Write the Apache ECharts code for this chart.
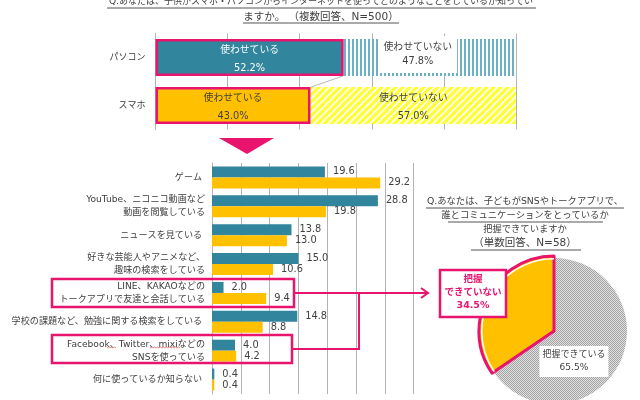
<!DOCTYPE html>
<html>
<head>
<meta charset="utf-8">
<style>html,body{margin:0;padding:0;background:#fff}#container{width:640px;height:400px}</style>
<script src="https://cdn.jsdelivr.net/npm/echarts@6/dist/echarts.min.js"></script>
</head>
<body>
<div id="container"></div>
<script>
const devices = ['パソコン', 'スマホ'];
const allowed = [52.2, 43.0];
const notAllowed = [47.8, 57.0];

const uses = ['ゲーム ', 'YouTube、ニコニコ動画など\n動画を閲覧している', 'ニュースを見ている ', '好きな芸能人やアニメなど、\n趣味の検索をしている', 'LINE、KAKAOなどの\nトークアプリで友達と会話している', '学校の課題など、勉強に関する検索をしている ', 'Facebook、Twitter、mixiなどの\nSNSを使っている', '何に使っているか知らない '];
const pcUse = [19.6, 28.8, 13.8, 15.0, 2.0, 14.8, 4.0, 0.4];
const phoneUse = [29.2, 19.8, 13.0, 10.6, 9.4, 8.8, 4.2, 0.4];

const pieNames = ['把握できている', '把握できていない'];
const pieValues = [65.5, 34.5];

const TEAL = '#31859c', ORANGE = '#ffc000', PINK = '#e8146e', GRID = '#b3b3b3', TEXT = '#404040';
const FONT = '"DejaVu Sans","Noto Sans CJK JP",sans-serif';

// small canvas tiles for the hatched fills
function tile(w, h, bg, draw) {
  const c = document.createElement('canvas');
  c.width = w; c.height = h;
  const ctx = c.getContext('2d');
  ctx.fillStyle = bg;
  ctx.fillRect(0, 0, w, h);
  draw(ctx);
  return { image: c, repeat: 'repeat' };
}
const stripes = tile(4, 4, '#fff', ctx => {
  ctx.fillStyle = '#6cb0c4';
  ctx.fillRect(0, 0, 2, 4);
});
const hatch = tile(7, 7, '#fff', ctx => {
  ctx.strokeStyle = '#ffff33';
  ctx.lineWidth = 3.2;
  [[-7, 7, 7, -7], [0, 7, 7, 0], [0, 14, 14, 0]].forEach(p => {
    ctx.beginPath(); ctx.moveTo(p[0], p[1]); ctx.lineTo(p[2], p[3]); ctx.stroke();
  });
});
const dots = tile(2, 2, '#e0e0e0', ctx => {
  ctx.fillStyle = '#a4a4a4';
  ctx.fillRect(0, 0, 1, 1);
  ctx.fillRect(1, 1, 1, 1);
});

function text(x, y, str, size, opts) {
  return {
    type: 'text', x, y, z: 100,
    style: Object.assign({ text: str, fill: TEXT, font: size + 'px ' + FONT, textAlign: 'center', textVerticalAlign: 'middle' }, opts)
  };
}
function line(x1, y1, x2, y2, color, w) {
  return { type: 'line', z: 100, shape: { x1, y1, x2, y2 }, style: { stroke: color, lineWidth: w } };
}
function box(x, y, w, h, fill) {
  return { type: 'rect', z: 100, shape: { x, y, width: w, height: h }, style: { fill: fill || 'transparent', stroke: PINK, lineWidth: 2.5 } };
}
// the red spell-check squiggle under the Facebook line
function squiggle(x1, x2, y) {
  const points = [];
  for (let x = x1, up = 0; x <= x2; x += 1.5, up = 1 - up) points.push([x, y - up]);
  return { type: 'polyline', z: 100, shape: { points }, style: { stroke: '#d9534f', lineWidth: 0.7, fill: 'none' } };
}

const chart = echarts.init(document.getElementById('container'));

const valueAxis = (idx, max, interval) => ({
  type: 'value', gridIndex: idx, min: 0, max, interval,
  axisLabel: { show: false }, axisLine: { show: false }, axisTick: { show: false },
  splitLine: { lineStyle: { color: GRID, width: 1 } }
});
const catAxis = (idx, data, size, lh, margin) => ({
  type: 'category', gridIndex: idx, data, inverse: true,
  axisLine: { lineStyle: { color: GRID } },
  axisTick: { length: 3, lineStyle: { color: GRID } },
  axisLabel: { color: TEXT, fontSize: size, lineHeight: lh, fontFamily: FONT, margin, interval: 0 }
});
const smallLabel = { show: true, position: 'right', distance: 8, color: TEXT, fontSize: 9.8, fontFamily: FONT, formatter: p => p.value.toFixed(1) };

chart.setOption({
  backgroundColor: '#fff',
  animation: false,
  grid: [
    { left: 155.5, top: 33.5, width: 360.5, height: 96 },
    { left: 212, top: 163, width: 201.6, height: 231 }
  ],
  xAxis: [valueAxis(0, 100, 20), valueAxis(1, 35, 5)],
  yAxis: [catAxis(0, devices, 9, 12, 10), catAxis(1, uses, 9.1, 13, 7)],
  series: [
    {
      type: 'bar', stack: 'a', name: '使わせている', barWidth: 37,
      data: allowed.map((v, i) => ({
        value: v,
        itemStyle: { color: i === 0 ? TEAL : ORANGE, borderColor: PINK, borderWidth: 2.5 },
        label: { color: i === 0 ? '#fff' : TEXT }
      })),
      label: { show: true, position: 'inside', offset: [0, 1.5], fontSize: 9.8, lineHeight: 18, fontFamily: FONT, formatter: p => p.seriesName + '\n' + p.value.toFixed(1) + '%' },
      z: 4
    },
    {
      type: 'bar', stack: 'a', name: '使わせていない', barWidth: 37,
      data: notAllowed.map((v, i) => ({
        value: v,
        itemStyle: { color: i === 0 ? stripes : hatch },
        label: i === 0
          ? { backgroundColor: '#fff', padding: [5, 5, 4, 5], lineHeight: 14, offset: [-12, -3] }
          : { lineHeight: 18, offset: [0, 1.5] }
      })),
      label: { show: true, position: 'inside', color: TEXT, fontSize: 9.8, fontFamily: FONT, formatter: p => p.seriesName + '\n' + p.value.toFixed(1) + '%' },
      z: 3
    },
    {
      type: 'bar', xAxisIndex: 1, yAxisIndex: 1, data: pcUse, barWidth: 11, barGap: 0,
      itemStyle: { color: TEAL }, label: smallLabel
    },
    {
      type: 'bar', xAxisIndex: 1, yAxisIndex: 1, data: phoneUse, barWidth: 11, barGap: 0,
      itemStyle: { color: ORANGE }, label: smallLabel
    },
    {
      type: 'pie', center: [554, 331], radius: 73, startAngle: 90, silent: true, labelLine: { show: false },
      data: [
        {
          value: pieValues[0], name: pieNames[0], itemStyle: { color: dots },
          label: {
            show: true, position: 'inside', offset: [-15, 12], color: TEXT, fontSize: 9, lineHeight: 13, fontFamily: FONT,
            backgroundColor: '#fff', padding: [3, 3, 2, 3], formatter: p => p.name + '\n' + p.value + '%'
          }
        },
        { value: pieValues[1], name: pieNames[1], itemStyle: { color: 'transparent' }, label: { show: false } }
      ]
    },
    {
      type: 'pie', center: [554, 331], radius: 75, startAngle: 90, silent: true, label: { show: false }, labelLine: { show: false },
      data: [
        { value: pieValues[0], itemStyle: { color: 'transparent', borderWidth: 0 } },
        { value: pieValues[1], itemStyle: { color: ORANGE, borderColor: PINK, borderWidth: 3 } }
      ]
    },
    {
      type: 'pie', center: [554, 331], radius: [71.5, 73], startAngle: 90, silent: true, label: { show: false }, labelLine: { show: false },
      data: [
        { value: pieValues[0], itemStyle: { color: 'transparent' } },
        { value: pieValues[1], itemStyle: { color: '#fff' } }
      ]
    }
  ],
  graphic: [
    text(321, 2, 'Q.あなたは、子供がスマホ・パソコンからインターネットを使ってどのようなことをしているか知ってい', 9),
    line(107, 8, 536, 8, '#555', 1),
    text(321, 17, 'ますか。 （複数回答、N=500）', 10.5),
    line(243, 23, 399, 23, '#555', 1),
    line(343, 76, 311, 87, '#999', 0.7),
    { type: 'polygon', z: 100, shape: { points: [[219, 138], [274, 138], [247, 154]] }, style: { fill: PINK } },
    box(52, 279, 242, 28),
    box(52, 335, 240, 28),
    squiggle(107, 117, 348),
    squiggle(150, 180, 348),
    { type: 'polyline', z: 100, shape: { points: [[292, 349], [359, 349], [359, 293]] }, style: { stroke: PINK, lineWidth: 2, fill: 'none' } },
    line(294, 293, 428, 293, PINK, 2),
    { type: 'polyline', z: 100, shape: { points: [[421, 288], [428, 293], [421, 298]] }, style: { stroke: PINK, lineWidth: 2, fill: 'none' } },
    text(525, 202, 'Q.あなたは、子どもがSNSやトークアプリで、', 9.3),
    line(426, 208, 624, 208, '#555', 1),
    text(525, 216, '誰とコミュニケーションをとっているか', 9.3),
    line(448, 222, 603, 222, '#555', 1),
    text(525, 230, '把握できていますか', 9.3),
    text(525, 243, '（単数回答、N=58）', 10.5),
    line(471, 250, 581, 250, '#555', 1),
    box(440, 270, 66, 47, '#fff'),
    text(473, 293, '把握\nできていない\n' + pieValues[1] + '%', 9.5, { fill: PINK, font: 'bold 9.5px ' + FONT, lineHeight: 13 })
  ]
});
</script>
</body>
</html>
